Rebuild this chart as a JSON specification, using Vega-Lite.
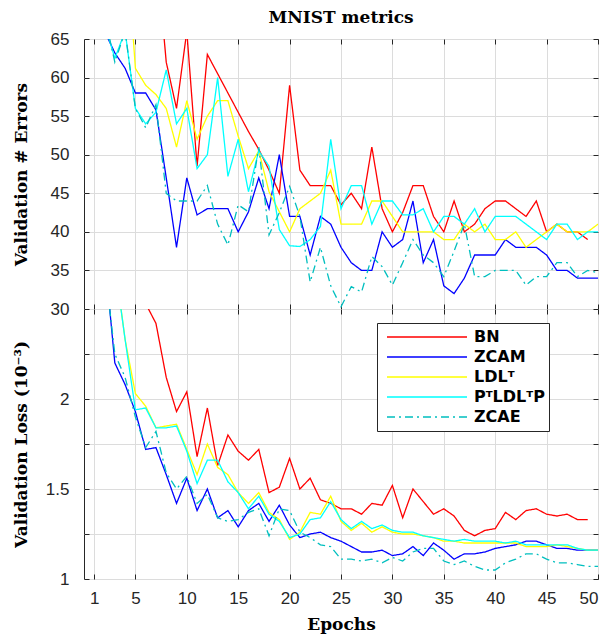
{
 "$schema": "https://vega.github.io/schema/vega-lite/v6.json",
 "background": "white",
 "padding": {"left": 11, "top": 8, "right": 5, "bottom": 5},
 "config": {
  "view": {"stroke": "#262626", "strokeWidth": 1},
  "axis": {"labelFont": "Liberation Sans", "labelFontSize": 17, "labelColor": "#262626", "titleFont": "DejaVu Serif", "titleFontSize": 17, "titleFontWeight": "bold", "titleColor": "#000000", "gridColor": "#dcdcdc", "gridWidth": 1, "domain": false, "tickColor": "#262626", "tickSize": -5, "tickWidth": 1},
  "legend": {"labelFont": "DejaVu Sans", "labelFontSize": 16, "labelFontWeight": "bold", "labelColor": "#000000", "symbolType": "stroke", "symbolSize": 6400, "symbolStrokeWidth": 1.5, "clipHeight": 20, "rowPadding": 0, "padding": 4, "symbolOffset": 5, "labelOffset": 6, "strokeColor": "#262626", "fillColor": "white", "labelLimit": 300},
  "concat": {"spacing": 0}
 },
 "datasets": {"d": [
  {"e":1,"m":"BN","err":95,"loss":3.2},{"e":2,"m":"BN","err":92,"loss":3.1},{"e":3,"m":"BN","err":88,"loss":3.0},{"e":4,"m":"BN","err":85,"loss":2.85},{"e":5,"m":"BN","err":82,"loss":2.7},{"e":6,"m":"BN","err":80,"loss":2.53},{"e":7,"m":"BN","err":77,"loss":2.42},{"e":8,"m":"BN","err":62,"loss":2.12},{"e":9,"m":"BN","err":56,"loss":1.93},{"e":10,"m":"BN","err":66,"loss":2.04},
  {"e":11,"m":"BN","err":48.5,"loss":1.68},{"e":12,"m":"BN","err":63,"loss":1.95},{"e":13,"m":"BN","err":60.5,"loss":1.63},{"e":14,"m":"BN","err":58,"loss":1.80},{"e":15,"m":"BN","err":55.5,"loss":1.71},{"e":16,"m":"BN","err":53,"loss":1.66},{"e":17,"m":"BN","err":50.7,"loss":1.72},{"e":18,"m":"BN","err":48,"loss":1.48},{"e":19,"m":"BN","err":45,"loss":1.51},{"e":20,"m":"BN","err":59,"loss":1.67},
  {"e":21,"m":"BN","err":48,"loss":1.50},{"e":22,"m":"BN","err":46,"loss":1.56},{"e":23,"m":"BN","err":46,"loss":1.44},{"e":24,"m":"BN","err":46,"loss":1.42},{"e":25,"m":"BN","err":43.5,"loss":1.39},{"e":26,"m":"BN","err":45,"loss":1.39},{"e":27,"m":"BN","err":43,"loss":1.36},{"e":28,"m":"BN","err":51,"loss":1.42},{"e":29,"m":"BN","err":43,"loss":1.41},{"e":30,"m":"BN","err":40,"loss":1.52},
  {"e":31,"m":"BN","err":42.5,"loss":1.34},{"e":32,"m":"BN","err":46,"loss":1.50},{"e":33,"m":"BN","err":46,"loss":1.43},{"e":34,"m":"BN","err":42,"loss":1.36},{"e":35,"m":"BN","err":40,"loss":1.39},{"e":36,"m":"BN","err":44,"loss":1.35},{"e":37,"m":"BN","err":40,"loss":1.27},{"e":38,"m":"BN","err":41,"loss":1.24},{"e":39,"m":"BN","err":43,"loss":1.27},{"e":40,"m":"BN","err":44,"loss":1.28},
  {"e":41,"m":"BN","err":44,"loss":1.37},{"e":42,"m":"BN","err":43,"loss":1.33},{"e":43,"m":"BN","err":42,"loss":1.38},{"e":44,"m":"BN","err":44,"loss":1.39},{"e":45,"m":"BN","err":40,"loss":1.36},{"e":46,"m":"BN","err":41,"loss":1.35},{"e":47,"m":"BN","err":40,"loss":1.36},{"e":48,"m":"BN","err":40,"loss":1.33},{"e":49,"m":"BN","err":39,"loss":1.33},

  {"e":1,"m":"ZCAM","err":70,"loss":3.5},{"e":2,"m":"ZCAM","err":66,"loss":2.8},{"e":3,"m":"ZCAM","err":63.2,"loss":2.2},{"e":4,"m":"ZCAM","err":61.2,"loss":2.08},{"e":5,"m":"ZCAM","err":58,"loss":1.93},{"e":6,"m":"ZCAM","err":58,"loss":1.72},{"e":7,"m":"ZCAM","err":55.8,"loss":1.73},{"e":8,"m":"ZCAM","err":47,"loss":1.58},{"e":9,"m":"ZCAM","err":38,"loss":1.42},{"e":10,"m":"ZCAM","err":47,"loss":1.56},
  {"e":11,"m":"ZCAM","err":42.2,"loss":1.38},{"e":12,"m":"ZCAM","err":43,"loss":1.50},{"e":13,"m":"ZCAM","err":43,"loss":1.34},{"e":14,"m":"ZCAM","err":43,"loss":1.38},{"e":15,"m":"ZCAM","err":40,"loss":1.29},{"e":16,"m":"ZCAM","err":42.6,"loss":1.38},{"e":17,"m":"ZCAM","err":47,"loss":1.42},{"e":18,"m":"ZCAM","err":43,"loss":1.32},{"e":19,"m":"ZCAM","err":50,"loss":1.41},{"e":20,"m":"ZCAM","err":42,"loss":1.30},
  {"e":21,"m":"ZCAM","err":42,"loss":1.23},{"e":22,"m":"ZCAM","err":37,"loss":1.25},{"e":23,"m":"ZCAM","err":42,"loss":1.26},{"e":24,"m":"ZCAM","err":41,"loss":1.23},{"e":25,"m":"ZCAM","err":38,"loss":1.21},{"e":26,"m":"ZCAM","err":36,"loss":1.18},{"e":27,"m":"ZCAM","err":35,"loss":1.15},{"e":28,"m":"ZCAM","err":35,"loss":1.15},{"e":29,"m":"ZCAM","err":40,"loss":1.16},{"e":30,"m":"ZCAM","err":38,"loss":1.13},
  {"e":31,"m":"ZCAM","err":39,"loss":1.14},{"e":32,"m":"ZCAM","err":44,"loss":1.18},{"e":33,"m":"ZCAM","err":36,"loss":1.13},{"e":34,"m":"ZCAM","err":39,"loss":1.20},{"e":35,"m":"ZCAM","err":33,"loss":1.16},{"e":36,"m":"ZCAM","err":32,"loss":1.11},{"e":37,"m":"ZCAM","err":34,"loss":1.14},{"e":38,"m":"ZCAM","err":37,"loss":1.14},{"e":39,"m":"ZCAM","err":37,"loss":1.15},{"e":40,"m":"ZCAM","err":37,"loss":1.17},
  {"e":41,"m":"ZCAM","err":39,"loss":1.18},{"e":42,"m":"ZCAM","err":38,"loss":1.19},{"e":43,"m":"ZCAM","err":38,"loss":1.21},{"e":44,"m":"ZCAM","err":38,"loss":1.21},{"e":45,"m":"ZCAM","err":37,"loss":1.19},{"e":46,"m":"ZCAM","err":35,"loss":1.17},{"e":47,"m":"ZCAM","err":35,"loss":1.17},{"e":48,"m":"ZCAM","err":34,"loss":1.16},{"e":49,"m":"ZCAM","err":34,"loss":1.16},{"e":50,"m":"ZCAM","err":34,"loss":1.16},

  {"e":1,"m":"LDLᵀ","err":95,"loss":3.5},{"e":2,"m":"LDLᵀ","err":90,"loss":3.2},{"e":3,"m":"LDLᵀ","err":85,"loss":2.76},{"e":4,"m":"LDLᵀ","err":80,"loss":2.33},{"e":5,"m":"LDLᵀ","err":61.2,"loss":2.03},{"e":6,"m":"LDLᵀ","err":59,"loss":1.96},{"e":7,"m":"LDLᵀ","err":57.8,"loss":1.84},{"e":8,"m":"LDLᵀ","err":56,"loss":1.85},{"e":9,"m":"LDLᵀ","err":51,"loss":1.86},{"e":10,"m":"LDLᵀ","err":57,"loss":1.72},
  {"e":11,"m":"LDLᵀ","err":52,"loss":1.58},{"e":12,"m":"LDLᵀ","err":55,"loss":1.75},{"e":13,"m":"LDLᵀ","err":57,"loss":1.62},{"e":14,"m":"LDLᵀ","err":57,"loss":1.58},{"e":15,"m":"LDLᵀ","err":52.4,"loss":1.48},{"e":16,"m":"LDLᵀ","err":48.2,"loss":1.42},{"e":17,"m":"LDLᵀ","err":50.5,"loss":1.48},{"e":18,"m":"LDLᵀ","err":45.2,"loss":1.37},{"e":19,"m":"LDLᵀ","err":42.6,"loss":1.33},{"e":20,"m":"LDLᵀ","err":40,"loss":1.22},
  {"e":21,"m":"LDLᵀ","err":43,"loss":1.26},{"e":22,"m":"LDLᵀ","err":44,"loss":1.37},{"e":23,"m":"LDLᵀ","err":45,"loss":1.36},{"e":24,"m":"LDLᵀ","err":48,"loss":1.46},{"e":25,"m":"LDLᵀ","err":41,"loss":1.32},{"e":26,"m":"LDLᵀ","err":41,"loss":1.27},{"e":27,"m":"LDLᵀ","err":41,"loss":1.31},{"e":28,"m":"LDLᵀ","err":44,"loss":1.26},{"e":29,"m":"LDLᵀ","err":44,"loss":1.29},{"e":30,"m":"LDLᵀ","err":42,"loss":1.26},
  {"e":31,"m":"LDLᵀ","err":40,"loss":1.25},{"e":32,"m":"LDLᵀ","err":40,"loss":1.25},{"e":33,"m":"LDLᵀ","err":40,"loss":1.24},{"e":34,"m":"LDLᵀ","err":40,"loss":1.23},{"e":35,"m":"LDLᵀ","err":39,"loss":1.21},{"e":36,"m":"LDLᵀ","err":39,"loss":1.21},{"e":37,"m":"LDLᵀ","err":41,"loss":1.20},{"e":38,"m":"LDLᵀ","err":40,"loss":1.20},{"e":39,"m":"LDLᵀ","err":41,"loss":1.20},{"e":40,"m":"LDLᵀ","err":39,"loss":1.20},
  {"e":41,"m":"LDLᵀ","err":39,"loss":1.20},{"e":42,"m":"LDLᵀ","err":40,"loss":1.20},{"e":43,"m":"LDLᵀ","err":38,"loss":1.18},{"e":44,"m":"LDLᵀ","err":39,"loss":1.18},{"e":45,"m":"LDLᵀ","err":40,"loss":1.18},{"e":46,"m":"LDLᵀ","err":41,"loss":1.19},{"e":47,"m":"LDLᵀ","err":40,"loss":1.18},{"e":48,"m":"LDLᵀ","err":40,"loss":1.17},{"e":49,"m":"LDLᵀ","err":40,"loss":1.16},{"e":50,"m":"LDLᵀ","err":41,"loss":1.16},

  {"e":1,"m":"PᵀLDLᵀP","err":72,"loss":3.4},{"e":2,"m":"PᵀLDLᵀP","err":67,"loss":3.1},{"e":3,"m":"PᵀLDLᵀP","err":62.5,"loss":2.75},{"e":4,"m":"PᵀLDLᵀP","err":66,"loss":2.33},{"e":5,"m":"PᵀLDLᵀP","err":56,"loss":1.94},{"e":6,"m":"PᵀLDLᵀP","err":54,"loss":1.95},{"e":7,"m":"PᵀLDLᵀP","err":55.5,"loss":1.84},{"e":8,"m":"PᵀLDLᵀP","err":61,"loss":1.84},{"e":9,"m":"PᵀLDLᵀP","err":54,"loss":1.85},{"e":10,"m":"PᵀLDLᵀP","err":56,"loss":1.71},
  {"e":11,"m":"PᵀLDLᵀP","err":48.2,"loss":1.53},{"e":12,"m":"PᵀLDLᵀP","err":50,"loss":1.66},{"e":13,"m":"PᵀLDLᵀP","err":60,"loss":1.66},{"e":14,"m":"PᵀLDLᵀP","err":47.2,"loss":1.54},{"e":15,"m":"PᵀLDLᵀP","err":52,"loss":1.48},{"e":16,"m":"PᵀLDLᵀP","err":45.2,"loss":1.39},{"e":17,"m":"PᵀLDLᵀP","err":50.5,"loss":1.46},{"e":18,"m":"PᵀLDLᵀP","err":48.5,"loss":1.36},{"e":19,"m":"PᵀLDLᵀP","err":40.3,"loss":1.32},{"e":20,"m":"PᵀLDLᵀP","err":38.2,"loss":1.23},
  {"e":21,"m":"PᵀLDLᵀP","err":38.1,"loss":1.25},{"e":22,"m":"PᵀLDLᵀP","err":39,"loss":1.33},{"e":23,"m":"PᵀLDLᵀP","err":40.7,"loss":1.34},{"e":24,"m":"PᵀLDLᵀP","err":52,"loss":1.43},{"e":25,"m":"PᵀLDLᵀP","err":43,"loss":1.33},{"e":26,"m":"PᵀLDLᵀP","err":46,"loss":1.28},{"e":27,"m":"PᵀLDLᵀP","err":46,"loss":1.32},{"e":28,"m":"PᵀLDLᵀP","err":41,"loss":1.28},{"e":29,"m":"PᵀLDLᵀP","err":44,"loss":1.30},{"e":30,"m":"PᵀLDLᵀP","err":44,"loss":1.27},
  {"e":31,"m":"PᵀLDLᵀP","err":42.2,"loss":1.26},{"e":32,"m":"PᵀLDLᵀP","err":42.2,"loss":1.26},{"e":33,"m":"PᵀLDLᵀP","err":43,"loss":1.24},{"e":34,"m":"PᵀLDLᵀP","err":40,"loss":1.23},{"e":35,"m":"PᵀLDLᵀP","err":42,"loss":1.22},{"e":36,"m":"PᵀLDLᵀP","err":42,"loss":1.21},{"e":37,"m":"PᵀLDLᵀP","err":41,"loss":1.22},{"e":38,"m":"PᵀLDLᵀP","err":43,"loss":1.21},{"e":39,"m":"PᵀLDLᵀP","err":40,"loss":1.21},{"e":40,"m":"PᵀLDLᵀP","err":42,"loss":1.21},
  {"e":41,"m":"PᵀLDLᵀP","err":42,"loss":1.20},{"e":42,"m":"PᵀLDLᵀP","err":42,"loss":1.21},{"e":43,"m":"PᵀLDLᵀP","err":41,"loss":1.19},{"e":44,"m":"PᵀLDLᵀP","err":40,"loss":1.19},{"e":45,"m":"PᵀLDLᵀP","err":39,"loss":1.19},{"e":46,"m":"PᵀLDLᵀP","err":41,"loss":1.19},{"e":47,"m":"PᵀLDLᵀP","err":41,"loss":1.19},{"e":48,"m":"PᵀLDLᵀP","err":39,"loss":1.17},{"e":49,"m":"PᵀLDLᵀP","err":40,"loss":1.16},{"e":50,"m":"PᵀLDLᵀP","err":40,"loss":1.16},

  {"e":1,"m":"ZCAE","err":72,"loss":3.4},{"e":2,"m":"ZCAE","err":68,"loss":2.75},{"e":3,"m":"ZCAE","err":62,"loss":2.25},{"e":4,"m":"ZCAE","err":66,"loss":2.12},{"e":5,"m":"ZCAE","err":56,"loss":1.9},{"e":6,"m":"ZCAE","err":53.5,"loss":1.73},{"e":7,"m":"ZCAE","err":56.5,"loss":1.82},{"e":8,"m":"ZCAE","err":45,"loss":1.59},{"e":9,"m":"ZCAE","err":44,"loss":1.50},{"e":10,"m":"ZCAE","err":44,"loss":1.57},
  {"e":11,"m":"ZCAE","err":44,"loss":1.42},{"e":12,"m":"ZCAE","err":46,"loss":1.47},{"e":13,"m":"ZCAE","err":41,"loss":1.34},{"e":14,"m":"ZCAE","err":38.3,"loss":1.32},{"e":15,"m":"ZCAE","err":43.5,"loss":1.33},{"e":16,"m":"ZCAE","err":42.6,"loss":1.37},{"e":17,"m":"ZCAE","err":51,"loss":1.39},{"e":18,"m":"ZCAE","err":39.6,"loss":1.24},{"e":19,"m":"ZCAE","err":42.5,"loss":1.39},{"e":20,"m":"ZCAE","err":45.9,"loss":1.38},
  {"e":21,"m":"ZCAE","err":42,"loss":1.26},{"e":22,"m":"ZCAE","err":33.5,"loss":1.23},{"e":23,"m":"ZCAE","err":38,"loss":1.19},{"e":24,"m":"ZCAE","err":33,"loss":1.18},{"e":25,"m":"ZCAE","err":30.3,"loss":1.11},{"e":26,"m":"ZCAE","err":32.9,"loss":1.11},{"e":27,"m":"ZCAE","err":32.2,"loss":1.10},{"e":28,"m":"ZCAE","err":36.8,"loss":1.11},{"e":29,"m":"ZCAE","err":35.5,"loss":1.09},{"e":30,"m":"ZCAE","err":33.1,"loss":1.12},
  {"e":31,"m":"ZCAE","err":36,"loss":1.10},{"e":32,"m":"ZCAE","err":39,"loss":1.15},{"e":33,"m":"ZCAE","err":37,"loss":1.17},{"e":34,"m":"ZCAE","err":36,"loss":1.17},{"e":35,"m":"ZCAE","err":34.2,"loss":1.10},{"e":36,"m":"ZCAE","err":37.5,"loss":1.08},{"e":37,"m":"ZCAE","err":41,"loss":1.10},{"e":38,"m":"ZCAE","err":34.2,"loss":1.07},{"e":39,"m":"ZCAE","err":34.2,"loss":1.05},{"e":40,"m":"ZCAE","err":35,"loss":1.05},
  {"e":41,"m":"ZCAE","err":35,"loss":1.09},{"e":42,"m":"ZCAE","err":35,"loss":1.11},{"e":43,"m":"ZCAE","err":33.1,"loss":1.14},{"e":44,"m":"ZCAE","err":34.2,"loss":1.14},{"e":45,"m":"ZCAE","err":34.2,"loss":1.11},{"e":46,"m":"ZCAE","err":36,"loss":1.09},{"e":47,"m":"ZCAE","err":36,"loss":1.09},{"e":48,"m":"ZCAE","err":34.2,"loss":1.08},{"e":49,"m":"ZCAE","err":35,"loss":1.07},{"e":50,"m":"ZCAE","err":34.7,"loss":1.07}
 ]},
 "bounds": "flush",
 "spacing": 0,
 "resolve": {"scale": {"color": "independent", "strokeDash": "independent"}, "legend": {"color": "independent", "strokeDash": "independent"}},
 "vconcat": [
  {
   "width": 514, "height": 270,
   "title": {"text": "MNIST metrics", "font": "DejaVu Serif", "fontSize": 17, "fontWeight": "bold", "color": "#000000", "frame": "group", "anchor": "middle", "offset": 3.5},
   "data": {"name": "d"},
   "layer": [
    {"mark": {"type": "line", "clip": true, "strokeWidth": 1.3},
     "encoding": {
      "x": {"field": "e", "type": "quantitative", "scale": {"domain": [0, 50], "nice": false, "zero": false}, "axis": {"values": [1,5,10,15,20,25,30,35,40,45,50], "labels": false, "title": null, "grid": true}},
      "y": {"field": "err", "type": "quantitative", "scale": {"domain": [30, 65], "nice": false, "zero": false}, "axis": {"values": [30,35,40,45,50,55,60,65], "title": "Validation # Errors", "grid": true, "labelPadding": 20, "titleX": -63, "titleY": 135, "titleAngle": 270, "titleAlign": "center", "titleBaseline": "middle"}},
      "color": {"field": "m", "type": "nominal", "scale": {"domain": ["BN","ZCAM","LDLᵀ","PᵀLDLᵀP","ZCAE"], "range": ["#ff0000","#0000ff","#ffff00","#00ffff","#00bfbf"]}, "legend": null},
      "strokeDash": {"field": "m", "type": "nominal", "scale": {"domain": ["BN","ZCAM","LDLᵀ","PᵀLDLᵀP","ZCAE"], "range": [[1,0],[1,0],[1,0],[1,0],[8,4,2,4]]}, "legend": null}
     }},
    {"mark": {"type": "point", "opacity": 0, "clip": true},
     "encoding": {
      "x": {"field": "e", "type": "quantitative", "scale": {"domain": [0, 50], "nice": false, "zero": false}, "axis": {"orient": "top", "values": [1,5,10,15,20,25,30,35,40,45,50], "labels": false, "title": null, "grid": false}},
      "y": {"field": "err", "type": "quantitative", "scale": {"domain": [30, 65], "nice": false, "zero": false}, "axis": {"orient": "right", "values": [30,35,40,45,50,55,60,65], "labels": false, "title": null, "grid": false}}
     }}
   ],
   "resolve": {"axis": {"x": "independent", "y": "independent"}}
  },
  {
   "width": 514, "height": 270,
   "data": {"name": "d"},
   "layer": [
    {"mark": {"type": "line", "clip": true, "strokeWidth": 1.3},
     "encoding": {
      "x": {"field": "e", "type": "quantitative", "scale": {"domain": [0, 50], "nice": false, "zero": false}, "axis": {"values": [1,5,10,15,20,25,30,35,40,45,50], "title": "Epochs", "grid": true, "labelPadding": 16, "titleY": 45, "titleBaseline": "middle"}},
      "y": {"field": "loss", "type": "quantitative", "scale": {"domain": [1, 2.5], "nice": false, "zero": false}, "axis": {"values": [1,1.25,1.5,1.75,2,2.25,2.5], "labelExpr": "datum.value === 1 ? '1' : datum.value === 1.5 ? '1.5' : datum.value === 2 ? '2' : ''", "title": "Validation Loss (10⁻³)", "grid": true, "labelPadding": 20, "titleX": -63, "titleY": 135, "titleAngle": 270, "titleAlign": "center", "titleBaseline": "middle"}},
      "color": {"field": "m", "type": "nominal", "scale": {"domain": ["BN","ZCAM","LDLᵀ","PᵀLDLᵀP","ZCAE"], "range": ["#ff0000","#0000ff","#ffff00","#00ffff","#00bfbf"]}, "legend": {"title": null, "orient": "none", "legendX": 293, "legendY": 14}},
      "strokeDash": {"field": "m", "type": "nominal", "scale": {"domain": ["BN","ZCAM","LDLᵀ","PᵀLDLᵀP","ZCAE"], "range": [[1,0],[1,0],[1,0],[1,0],[8,4,2,4]]}, "legend": {"title": null, "orient": "none", "legendX": 293, "legendY": 14}}
     }},
    {"mark": {"type": "point", "opacity": 0, "clip": true},
     "encoding": {
      "x": {"field": "e", "type": "quantitative", "scale": {"domain": [0, 50], "nice": false, "zero": false}, "axis": {"orient": "top", "values": [1,5,10,15,20,25,30,35,40,45,50], "labels": false, "title": null, "grid": false}},
      "y": {"field": "loss", "type": "quantitative", "scale": {"domain": [1, 2.5], "nice": false, "zero": false}, "axis": {"orient": "right", "values": [1,1.25,1.5,1.75,2,2.25,2.5], "labels": false, "title": null, "grid": false}}
     }}
   ],
   "resolve": {"axis": {"x": "independent", "y": "independent"}}
  }
 ]
}
